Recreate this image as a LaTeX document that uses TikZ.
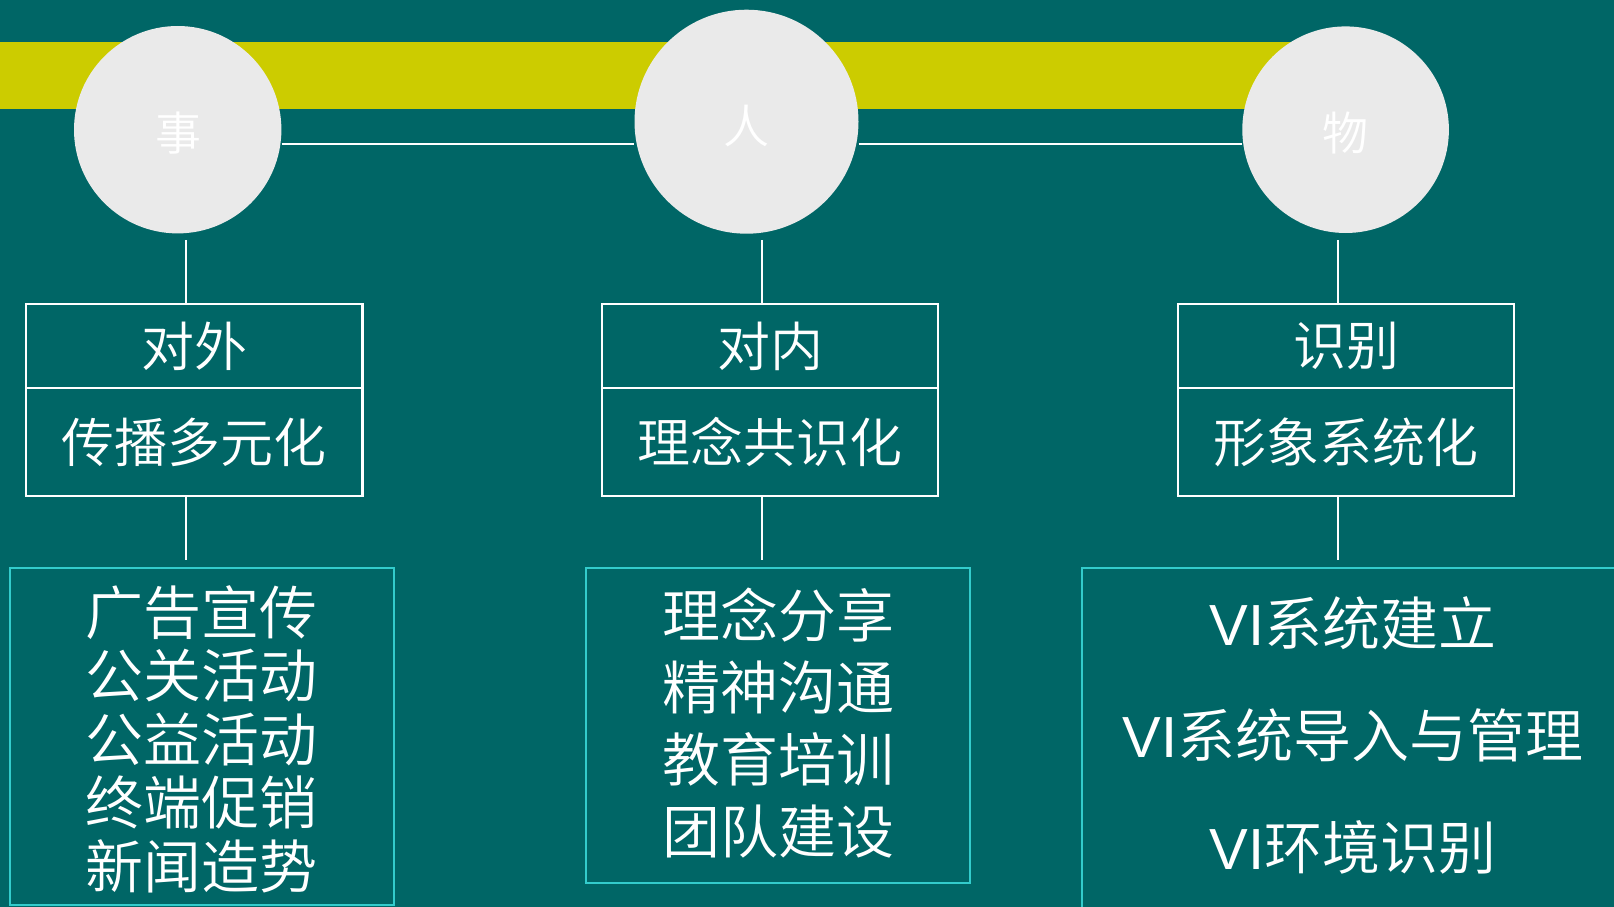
\documentclass[tikz,border=0pt]{standalone}
\usepackage{fontspec}
\setmainfont{Noto Sans CJK SC}[UprightFont = * DemiLight]
\newfontfamily\latinsans{Liberation Sans}
\definecolor{bg}{HTML}{006666}
\definecolor{band}{HTML}{CCCC00}
\definecolor{disc}{HTML}{EAEAEA}
\definecolor{cyanline}{HTML}{33CCCC}
\begin{document}
\begin{tikzpicture}[x=1pt,y=-1pt,
  ball/.style={circle, fill=disc, draw=none, text=white, inner sep=0pt, font=\fontsize{46}{46}\selectfont},
  conn/.style={draw=white, line width=2pt},
  hline/.style={draw=white, line width=1.8pt},
  headbox/.style={draw=white, line width=2.2pt, minimum width=336.6pt, minimum height=84pt, inner sep=0pt, text=white, font=\fontsize{53}{53}\selectfont},
  subbox/.style={draw=white, line width=2.2pt, minimum width=336.6pt, minimum height=108pt, inner sep=0pt, text=white, font=\fontsize{53}{53}\selectfont},
  listbox/.style={draw=cyanline, line width=2pt, inner sep=0pt},
  listtext/.style={text=white, align=center, inner sep=0pt}
]
\clip (0,0) rectangle (1614,907);
\fill[bg] (0,0) rectangle (1614,907);
\fill[band] (0,42) rectangle (1345,108.7);

% circles
\node[ball, minimum size=207.4pt] (c1) at (177.7,129.7) {};
\node[ball, minimum size=224pt] (c2) at (746.5,121.7) {};
\node[ball, minimum size=206.6pt] (c3) at (1345.6,129.7) {};

% horizontal connectors
\draw[hline] ([yshift=-14.3pt]c1.east) -- ([yshift=-22.3pt]c2.west);
\draw[hline] ([yshift=-22.3pt]c2.east) -- ([yshift=-14.3pt]c3.west);

\node[text=white, font=\fontsize{46}{46}\selectfont] (t1) at (178,133) {事};
\node[text=white, font=\fontsize{46}{46}\selectfont] (t2) at (746,126) {人};
\node[text=white, font=\fontsize{46}{46}\selectfont] (t3) at (1345,133) {物};

% head boxes
\node[headbox] (h1) at (194.15,346) {对外};
\node[subbox] (s1) at (194.15,442) {传播多元化};
\node[headbox] (h2) at (770,346) {对内};
\node[subbox] (s2) at (770,442) {理念共识化};
\node[headbox] (h3) at (1346,346) {识别};
\node[subbox] (s3) at (1346,442) {形象系统化};

% list boxes
\node[listbox, minimum width=384.3pt, minimum height=336.8pt] (l1) at (202.15,736.4) {};
\node[listbox, minimum width=384pt, minimum height=315.2pt] (l2) at (778,725.6) {};
\node[listbox, minimum width=618.3pt, minimum height=432pt] (l3) at (1390.85,784) {};

\node[listtext, font=\fontsize{58}{63.5}\selectfont] (x1) at (201,739) {广告宣传\\公关活动\\公益活动\\终端促销\\新闻造势};
\node[listtext, font=\fontsize{58}{72}\selectfont] (x2) at (778,723) {理念分享\\精神沟通\\教育培训\\团队建设};
\node[listtext, font=\fontsize{58}{112}\selectfont] (x3) at (1353,735) {{\latinsans VI}系统建立\\{\latinsans VI}系统导入与管理\\{\latinsans VI}环境识别};

% vertical connectors
\coordinate (a1) at (185.5,240);
\coordinate (a2) at (761.7,240);
\coordinate (a3) at (1337.8,240);
\coordinate (b1) at (185.5,560);
\coordinate (b2) at (761.7,560);
\coordinate (b3) at (1337.8,560);
\draw[conn] (a1) -- (a1 |- h1.north);
\draw[conn] (a2) -- (a2 |- h2.north);
\draw[conn] (a3) -- (a3 |- h3.north);
\draw[conn] (b1 |- s1.south) -- (b1);
\draw[conn] (b2 |- s2.south) -- (b2);
\draw[conn] (b3 |- s3.south) -- (b3);
\end{tikzpicture}
\end{document}
